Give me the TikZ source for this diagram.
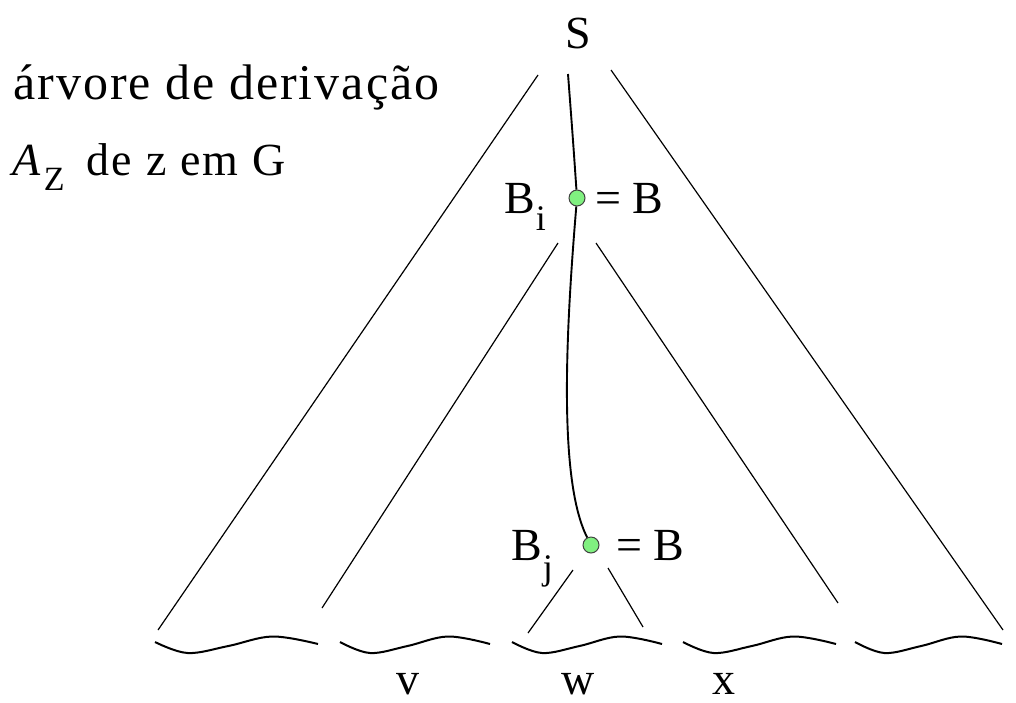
\documentclass[tikz,border=0pt]{standalone}
\usepackage{fontspec}
\setmainfont{Liberation Serif}
\usepackage{xcolor}
\usepackage{tikz}
\usetikzlibrary{calc}
\definecolor{dotc}{HTML}{80F080}
\tikzset{
  ln/.style={black,line width=1.2pt},
  sp/.style={black,line width=1.9pt},
  wv/.style={black,line width=2pt},
  dt/.style={circle,draw=black!75,line width=1pt,fill=dotc,minimum size=16pt,inner sep=0pt},
  lb/.style={font=\fontsize{46}{50}\selectfont,inner sep=0pt,anchor=base}
}
\newcommand{\lowsub}[2]{\raisebox{-#1}{\fontsize{36}{40}\selectfont #2}}

\begin{document}
\begin{tikzpicture}[x=1pt,y=-1pt]
\useasboundingbox (0,0) rectangle (1016,702);
\node[lb] (S) at (578,48) {S};
\node[dt] (Bi) at (577,198) {};
\node[dt] (Bj) at (591,545) {};
\node[lb,anchor=base east] (Bil) at (546,213) {B\kern1pt\lowsub{17pt}{i}};
\node[lb,anchor=base west] (Bir) at (595,213) {= B};
\node[lb,anchor=base east] (Bjl) at (553,560) {B\kern1pt\lowsub{19pt}{j}};
\node[lb,anchor=base west] (Bjr) at (616,560) {= B};
\node[lb,anchor=base west,font=\fontsize{50}{54}\selectfont\addfontfeatures{LetterSpace=4}] (cap1) at (13,99) {árvore de derivação};
\node[lb,anchor=base west,font=\fontsize{46}{50}\selectfont\addfontfeatures{LetterSpace=5}] (cap2) at (12,175) {\textit{A}\kern1pt\lowsub{15pt}{\fontsize{34}{36}\selectfont Z}\kern22pt de z em G};
\node[lb,text depth=0pt] (v) at (408,694) {v};
\node[lb,text depth=0pt] (w) at (578,694) {w};
\node[lb,text depth=0pt] (x) at (724,694) {x};
\coordinate (sp0) at (568,74);
\coordinate (lo1) at (538,75);
\coordinate (lo2) at (158,630);
\coordinate (ro1) at (611,70);
\coordinate (ro2) at (1003,630);
\coordinate (li1) at (558,243);
\coordinate (li2) at (322,608);
\coordinate (ri1) at (596,243);
\coordinate (ri2) at (838,603);
\coordinate (lj1) at (573,570);
\coordinate (lj2) at (528,633);
\coordinate (rj1) at (608,568);
\coordinate (rj2) at (643,627);
\draw[ln] (lo1) -- (lo2);
\draw[ln] (ro1) -- (ro2);
\draw[ln] (li1) -- (li2);
\draw[ln] (ri1) -- (ri2);
\draw[ln] (lj1) -- (lj2);
\draw[ln] (rj1) -- (rj2);
\draw[sp] (sp0) .. controls (573,140) .. (Bi);
\draw[sp] (Bi) .. controls (566,330) and (558,480) .. (Bj);
\foreach \a/\b in {155/318,340/490,512/662,683/836,855/1002}
  \draw[wv] plot[smooth,tension=0.6] coordinates {(\a,642) ({\a+0.2*(\b-\a)},653) ({\a+0.45*(\b-\a)},646) ({\a+0.72*(\b-\a)},636.5) (\b,644)};
\end{tikzpicture}
\end{document}
